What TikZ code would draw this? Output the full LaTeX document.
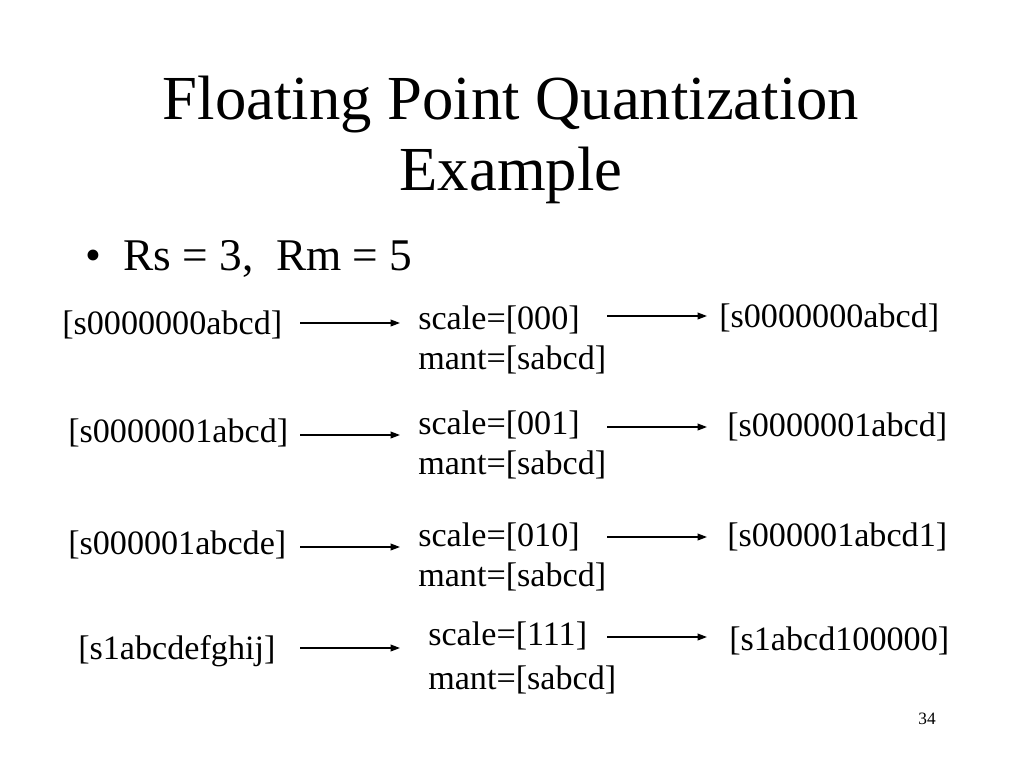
\documentclass[tikz,border=0pt]{standalone}
\usepackage{fontspec}
\setmainfont{Liberation Serif}
\usetikzlibrary{arrows.meta}
\begin{document}
\begin{tikzpicture}[x=0.75pt,y=-0.75pt,
  rowtext/.style={anchor=base west,inner sep=0pt,font=\fontsize{25.6pt}{30pt}\selectfont},
  conn/.style={line width=1.1pt,-{Triangle[length=7pt,width=5pt]}}]
\useasboundingbox (0,0) rectangle (1024,768);
% title
\node[inner sep=0pt,anchor=base,font=\fontsize{47pt}{52.5pt}\selectfont] (t1) at (511,119) {Floating Point Quantization};
\node[inner sep=0pt,anchor=base,font=\fontsize{47pt}{52.5pt}\selectfont] (t2) at (511,190) {Example};
% bullet
\node[inner sep=0pt,anchor=base west,font=\fontsize{34pt}{40pt}\selectfont] (bul) at (85,270) {\textbullet};
\node[inner sep=0pt,anchor=base west,font=\fontsize{34pt}{40pt}\selectfont] (rs) at (123,270) {Rs = 3,\ \ Rm = 5};
% row 1
\node[rowtext] (l1) at (62,334) {[s0000000abcd]};
\node[rowtext] (s1) at (418,329) {scale=[000]};
\node[rowtext] (n1) at (418,369) {mant=[sabcd]};
\node[rowtext] (r1) at (719,327) {[s0000000abcd]};
% row 2
\node[rowtext] (l2) at (68,442) {[s0000001abcd]};
\node[rowtext] (s2) at (418,434) {scale=[001]};
\node[rowtext] (n2) at (418,474) {mant=[sabcd]};
\node[rowtext] (r2) at (727,436) {[s0000001abcd]};
% row 3
\node[rowtext] (l3) at (68,554) {[s000001abcde]};
\node[rowtext] (s3) at (418,546) {scale=[010]};
\node[rowtext] (n3) at (418,586) {mant=[sabcd]};
\node[rowtext] (r3) at (727,546) {[s000001abcd1]};
% row 4
\node[rowtext] (l4) at (78,659) {[s1abcdefghij]};
\node[rowtext] (s4) at (428,645) {scale=[111]};
\node[rowtext] (n4) at (428,689) {mant=[sabcd]};
\node[rowtext] (r4) at (729,650) {[s1abcd100000]};
% arrow ends
\coordinate (a1s) at (300,323); \coordinate (a1e) at (400,323);
\coordinate (b1s) at (607,316); \coordinate (b1e) at (707,316);
\coordinate (a2s) at (300,435); \coordinate (a2e) at (400,435);
\coordinate (b2s) at (607,427); \coordinate (b2e) at (707,427);
\coordinate (a3s) at (300,547); \coordinate (a3e) at (400,547);
\coordinate (b3s) at (607,537); \coordinate (b3e) at (707,537);
\coordinate (a4s) at (300,648); \coordinate (a4e) at (400,648);
\coordinate (b4s) at (607,637); \coordinate (b4e) at (707,637);
\foreach \r in {1,2,3,4}{
  \draw[conn] (a\r s) -- (a\r e);
  \draw[conn] (b\r s) -- (b\r e);
}
% page number
\node[inner sep=0pt,anchor=base,font=\fontsize{13pt}{15pt}\selectfont] (pg) at (927,724) {34};
\end{tikzpicture}
\end{document}
